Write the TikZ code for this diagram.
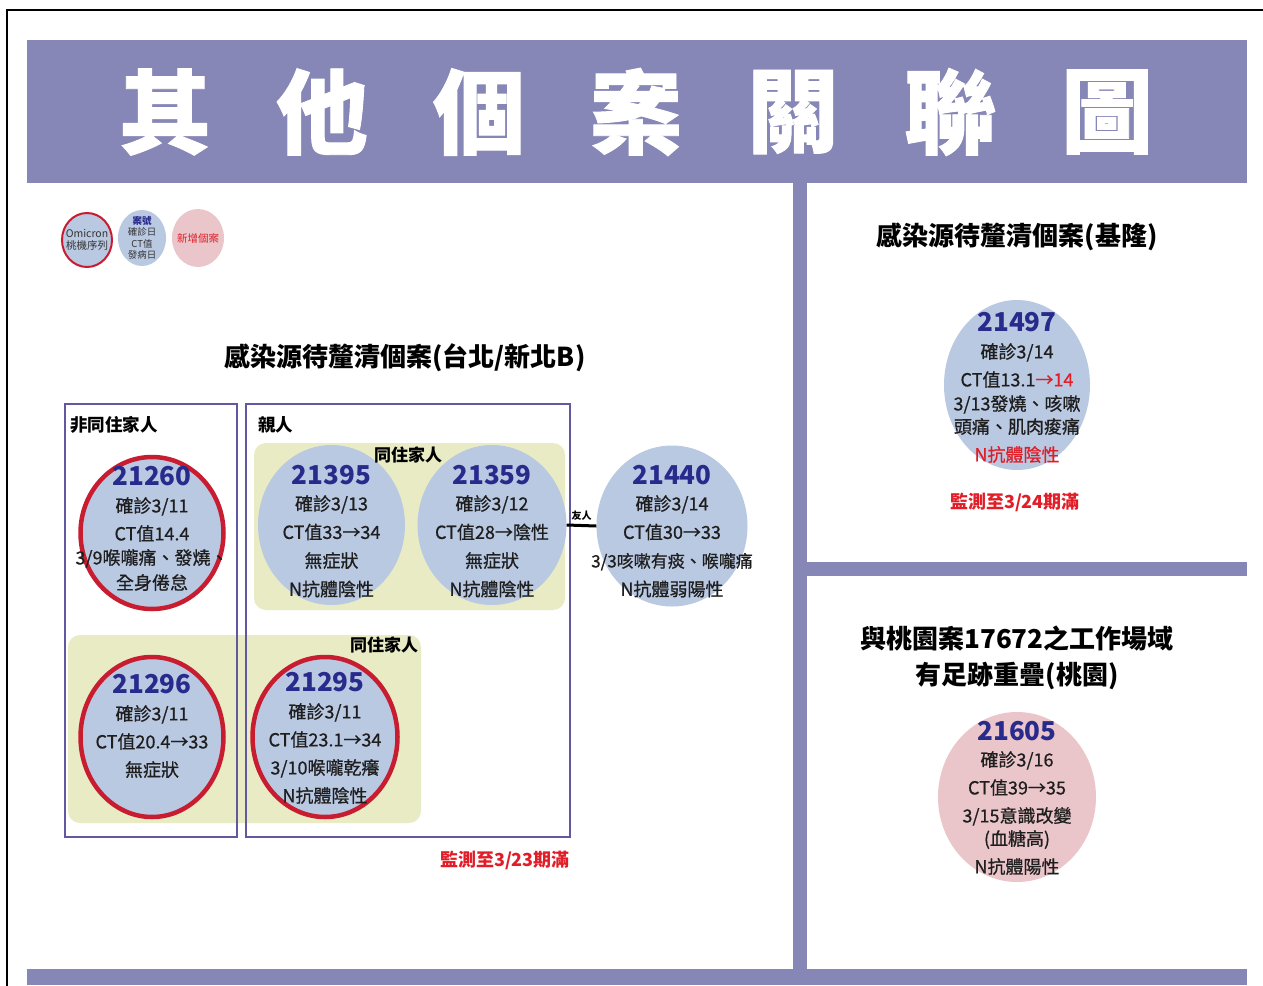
\documentclass[tikz,border=0pt]{standalone}
\usepackage{fontspec}
\setmainfont{Noto Sans CJK TC}
\newfontfamily\bodyfont{Noto Sans CJK TC}[FakeBold=0.8]
\newfontfamily\titlefont{Noto Sans CJK TC}[FakeBold=1.0]
\usetikzlibrary{shapes.geometric}
\definecolor{barpurple}{RGB}{135,135,183}
\definecolor{boxline}{RGB}{98,88,160}
\definecolor{caseblue}{RGB}{186,201,226}
\definecolor{omired}{RGB}{200,28,48}
\definecolor{famyellow}{RGB}{233,235,196}
\definecolor{newpink}{RGB}{234,198,202}
\definecolor{numblue}{RGB}{40,42,140}
\definecolor{alertred}{RGB}{225,30,40}
\definecolor{bodytext}{RGB}{30,30,30}
\tikzset{
  bar/.style={fill=barpurple, draw=none},
  groupbox/.style={draw=boxline, line width=2.8pt},
  famzone/.style={fill=famyellow, draw=none, rounded corners=12pt},
  casecircle/.style={ellipse, fill=caseblue, draw=none, inner sep=0pt},
  omicron/.style={draw=omired, line width=4.5pt},
  newcase/.style={fill=newpink},
  casenum/.style={anchor=base, inner sep=0pt, text=numblue, font=\fontsize{26}{28}\selectfont\bfseries},
  casebody/.style={anchor=north, inner sep=0pt, align=center, text=bodytext, font=\bodyfont\fontsize{18}{28}\selectfont},
  grouplabel/.style={inner sep=0pt, text=black, font=\fontsize{17.5}{20}\selectfont\bfseries},
  sectitle/.style={inner sep=0pt, text=black, font=\fontsize{26}{36}\selectfont\bfseries},
  monitor/.style={inner sep=0pt, text=alertred, font=\fontsize{18}{20}\selectfont\bfseries},
  titlechar/.style={inner sep=0pt, text=white, font=\titlefont\fontsize{92}{96}\selectfont\bfseries},
  legendtext/.style={inner sep=0pt, align=center, font=\fontsize{10.5}{12}\selectfont},
}
\begin{document}
\begin{tikzpicture}[x=1pt,y=-1pt]
\useasboundingbox (0,0) rectangle (1263,985);
\fill[white] (0,0) rectangle (1263,985);
% outer frame
\draw[black, line width=2pt] (7,986) -- (7,10) -- (1264,10);
% title bar
\fill[bar] (27,40) rectangle (1247,183);
\foreach \c [count=\i] in {其,他,個,案,關,聯,圖}
  \node[titlechar] (t\i) at ({165+157*(\i-1)},112) {\c};
% dividers
\fill[bar] (793,183) rectangle (807,970);
\fill[bar] (807,562) rectangle (1247,576);
\fill[bar] (27,969) rectangle (1247,985);

% legend
\node[casecircle, omicron, line width=2pt, minimum width=50pt, minimum height=54pt] (lg1) at (87,240) {};
\node[legendtext, text=black!80] at (lg1.center) {Omicron\\桃機序列};
\node[casecircle, minimum width=48pt, minimum height=56pt] (lg2) at (142,238) {};
\node[legendtext, font=\fontsize{9.5}{11.5}\selectfont, text=black!80] at (lg2.center) {\textcolor{numblue}{\bfseries 案號}\\確診日\\CT值\\發病日};
\node[casecircle, newcase, minimum width=52pt, minimum height=58pt] (lg3) at (198,238) {};
\node[legendtext, text=alertred] at (lg3.center) {新增個案};

% section titles
\node[sectitle] (s1) at (405,358) {感染源待釐清個案(台北/新北B)};
\node[sectitle] (s2) at (1017,237) {感染源待釐清個案(基隆)};
\node[sectitle, align=center, font=\fontsize{26}{36}\selectfont\bfseries] (s3) at (1017,658) {與桃園案17672之工作場域\\有足跡重疊(桃園)};

% family zones
\fill[famzone] (254,443) rectangle (565,610);
\fill[famzone] (68,635) rectangle (421,823);

% group boxes
\draw[groupbox] (65,404) rectangle (237,837);
\draw[groupbox] (246,404) rectangle (570,837);
\node[grouplabel, anchor=west] (g1) at (70,425) {非同住家人};
\node[grouplabel, anchor=west] (g2) at (258,425) {親人};

% cases
\node[casecircle, omicron, minimum width=143pt, minimum height=152pt] (c21260) at (152,533) {};
\node[casecircle, minimum width=147pt, minimum height=160pt] (c21395) at (331.5,525) {};
\node[casecircle, minimum width=149pt, minimum height=160pt] (c21359) at (492,525) {};
\node[casecircle, minimum width=151pt, minimum height=161pt] (c21440) at (672,526) {};
\node[casecircle, omicron, minimum width=143pt, minimum height=160pt] (c21296) at (152,737) {};
\node[casecircle, omicron, minimum width=145pt, minimum height=160pt] (c21295) at (325,737) {};
\node[casecircle, minimum width=146pt, minimum height=170pt] (c21497) at (1017,385) {};
\node[casecircle, newcase, minimum width=158pt, minimum height=170pt] (c21605) at (1017,797) {};

\node[grouplabel, font=\fontsize{17}{20}\selectfont\bfseries] (h1) at (408,455) {同住家人};
\node[grouplabel, font=\fontsize{17}{20}\selectfont\bfseries] (h2) at (384,645) {同住家人};

% friend link
\draw[black, line width=3pt] (c21359.east) -- (c21440.west) node[midway, above=4pt, inner sep=0pt, font=\fontsize{10}{12}\selectfont\bfseries] (f1) {友人};

% case texts
\node[casenum] (n21260) at (152,485) {21260};
\node[casebody] (b21260) at (152,497) {確診3/11\\CT值14.4\\[-4pt]3/9喉嚨痛、發燒、\\[-3pt]全身倦怠};
\node[casenum] (n21395) at (331.5,484) {21395};
\node[casebody, font=\bodyfont\fontsize{18}{28.5}\selectfont] (b21395) at (331.5,495) {確診3/13\\CT值33→34\\無症狀\\N抗體陰性};
\node[casenum] (n21359) at (492,484) {21359};
\node[casebody, font=\bodyfont\fontsize{18}{28.5}\selectfont] (b21359) at (492,495) {確診3/12\\CT值28→陰性\\無症狀\\N抗體陰性};
\node[casenum] (n21440) at (672,484) {21440};
\node[casebody, font=\bodyfont\fontsize{18}{28.5}\selectfont] (b21440) at (672,495) {確診3/14\\CT值30→33\\{\fontsize{17}{28.5}\selectfont 3/3咳嗽有痰、喉嚨痛}\\N抗體弱陽性};
\node[casenum] (n21296) at (152,693) {21296};
\node[casebody] (b21296) at (152,705) {確診3/11\\CT值20.4→33\\無症狀};
\node[casenum] (n21295) at (325,691) {21295};
\node[casebody] (b21295) at (325,703) {確診3/11\\CT值23.1→34\\3/10喉嚨乾癢\\N抗體陰性};
\node[casenum] (n21497) at (1017,331) {21497};
\node[casebody] (b21497) at (1017,343) {確診3/14\\CT值13.1\textcolor{alertred}{→14}\\[-4pt]3/13發燒、咳嗽\\[-5pt]頭痛、肌肉痠痛\\\textcolor{alertred}{N抗體陰性}};
\node[casenum] (n21605) at (1017,740) {21605};
\node[casebody] (b21605) at (1017,751) {確診3/16\\CT值39→35\\3/15意識改變\\[-5pt](血糖高)\\N抗體陽性};

% monitoring notes
\node[monitor] (m1) at (505,860) {監測至3/23期滿};
\node[monitor] (m2) at (1015,502) {監測至3/24期滿};
\end{tikzpicture}
\end{document}
